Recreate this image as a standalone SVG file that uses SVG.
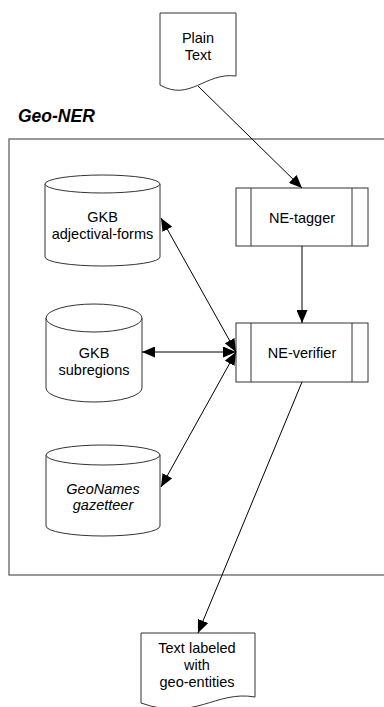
<svg xmlns="http://www.w3.org/2000/svg" width="384" height="707" viewBox="0 0 384 707">
<style>
.shape{fill:#fff;stroke:#333;stroke-width:1}
.frame{fill:none;stroke:#555;stroke-width:1.2}
.t{font-family:"Liberation Sans",Arial,sans-serif;font-size:14.5px;fill:#000;text-anchor:middle}
.it{font-style:italic}
.title{font-family:"Liberation Sans",Arial,sans-serif;font-size:17.5px;font-weight:bold;font-style:italic;fill:#000}
.c{fill:none;stroke:#000;stroke-width:1}
</style>
<defs>
<marker id="ah" viewBox="0 0 13 11" refX="13" refY="5.5" markerWidth="13" markerHeight="11" markerUnits="userSpaceOnUse" orient="auto-start-reverse">
<path d="M0,0 L13,5.5 L0,11 Z" fill="#000"/>
</marker>
</defs>
<rect width="384" height="707" fill="#fff"/>
<g id="geo-ner">
<rect class="frame" x="9" y="139" width="400" height="436"/>
<text class="title" x="18" y="122">Geo-NER</text>
</g>
<g id="plain-text">
<path class="shape" d="M160,13 H236 V76 C205,72 190,102 160,85 Z"/>
<text class="t" x="198" y="43">Plain</text>
<text class="t" x="198" y="60">Text</text>
</g>
<g id="ne-tagger">
<rect class="shape" x="236" y="188" width="132" height="58"/>
<line class="shape" x1="251" y1="188" x2="251" y2="246"/>
<line class="shape" x1="352" y1="188" x2="352" y2="246"/>
<text class="t" x="302" y="223">NE-tagger</text>
</g>
<g id="ne-verifier">
<rect class="shape" x="236" y="323" width="132" height="59"/>
<line class="shape" x1="251" y1="323" x2="251" y2="382"/>
<line class="shape" x1="352" y1="323" x2="352" y2="382"/>
<text class="t" x="302" y="358">NE-verifier</text>
</g>
<g id="gkb-adjectival">
<path class="shape" d="M45,184 A57.5,9 0 0 1 160,184 V257 A57.5,9 0 0 1 45,257 Z"/>
<path class="shape" fill="none" d="M45,184 A57.5,9 0 0 0 160,184"/>
<text class="t" x="102.5" y="222">GKB</text>
<text class="t" x="102.5" y="239">adjectival-forms</text>
</g>
<g id="gkb-subregions">
<path class="shape" d="M46,318 A48,14 0 0 1 142,318 V388 A48,14 0 0 1 46,388 Z"/>
<path class="shape" fill="none" d="M46,318 A48,14 0 0 0 142,318"/>
<text class="t" x="94" y="358">GKB</text>
<text class="t" x="94" y="375">subregions</text>
</g>
<g id="geonames">
<path class="shape" d="M46,455 A57,10 0 0 1 160,455 V526 A57,10 0 0 1 46,526 Z"/>
<path class="shape" fill="none" d="M46,455 A57,10 0 0 0 160,455"/>
<text class="t it" x="103" y="494">GeoNames</text>
<text class="t it" x="103" y="510">gazetteer</text>
</g>
<g id="text-labeled">
<path class="shape" d="M141,633 H255 V697 C215,690 195,722 141,703 Z"/>
<text class="t" x="197" y="653">Text labeled</text>
<text class="t" x="197" y="670">with</text>
<text class="t" x="197" y="687">geo-entities</text>
</g>
<g id="connectors">
<line class="c" x1="198" y1="86" x2="302" y2="188" marker-end="url(#ah)"/>
<line class="c" x1="302" y1="246" x2="302" y2="323" marker-end="url(#ah)"/>
<line class="c" x1="161" y1="218" x2="236" y2="352" marker-start="url(#ah)" marker-end="url(#ah)"/>
<line class="c" x1="142" y1="352" x2="236" y2="352" marker-start="url(#ah)" marker-end="url(#ah)"/>
<line class="c" x1="161" y1="487" x2="236" y2="352" marker-start="url(#ah)" marker-end="url(#ah)"/>
<line class="c" x1="302" y1="382" x2="198" y2="633" marker-end="url(#ah)"/>
</g>
</svg>
